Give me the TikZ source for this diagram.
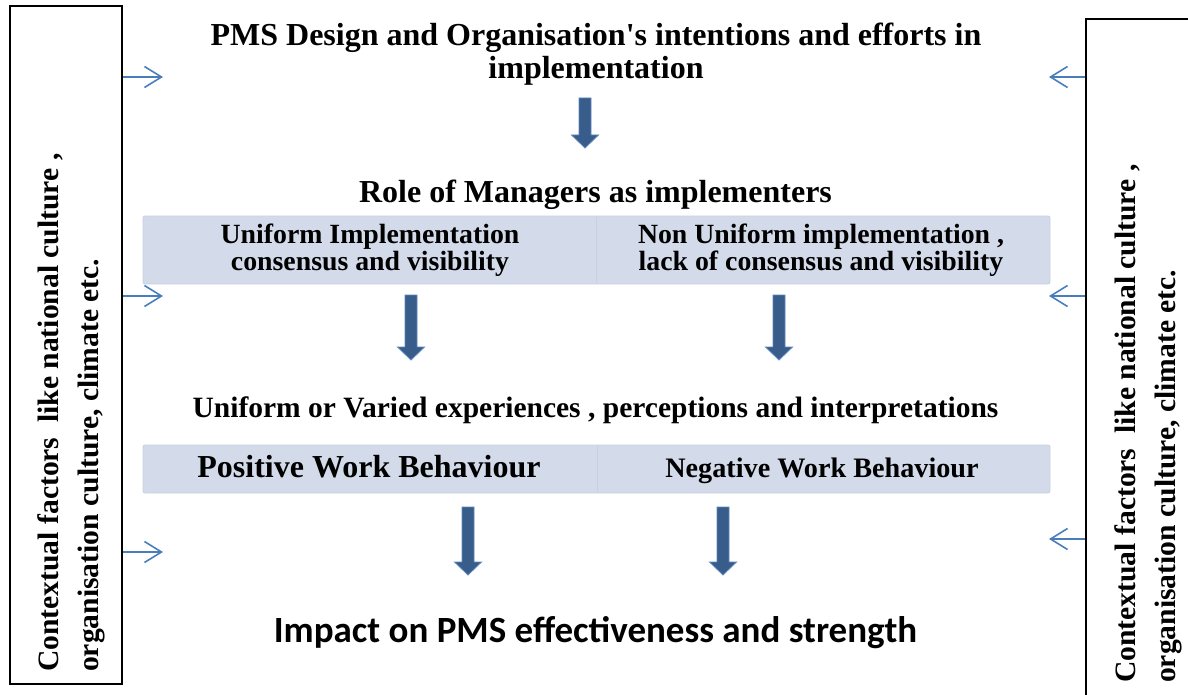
\documentclass[tikz,border=0pt]{standalone}
\usepackage{fontspec}
\setmainfont{Liberation Serif}
\newfontfamily\calib{Carlito}
\usetikzlibrary{arrows.meta}
\definecolor{adark}{RGB}{56,93,138}
\definecolor{aedge}{RGB}{95,135,190}
\definecolor{sblue}{RGB}{74,126,187}
\definecolor{band}{RGB}{211,218,233}
\definecolor{bandline}{RGB}{200,208,226}
\tikzset{
  pics/barrow/.style={code={
    \filldraw[fill=adark, draw=aedge, line width=0.8pt]
      (-6,0) -- (6,0) -- (6,#1-13) -- (13.5,#1-13) -- (0,#1) -- (-13.5,#1-13) -- (-6,#1-13) -- cycle;
  }},
  sarrow/.style={draw=sblue, line width=1.6pt, -{Straight Barb[length=17pt,width=21pt,line width=1.6pt]}},
  ctxbox/.style={draw=black, line width=2pt, minimum width=112pt, minimum height=678pt, inner sep=0pt},
  ctxtext/.style={rotate=90, anchor=base west, align=left, inner sep=0pt, font=\bfseries\fontsize{29.6}{40}\selectfont},
  bandbox/.style={fill=band, draw=bandline, line width=0.8pt, rounded corners=2pt},
  txt/.style={anchor=base, inner sep=0pt, align=center}
}
\begin{document}
\begin{tikzpicture}[x=1pt,y=-1pt]
\clip (0,0) rectangle (1188,695);
\fill[white] (0,0) rectangle (1188,695);

% context boxes
\node[ctxbox] (lbox) at (66,345) {};
\node[ctxtext] (ltext) at (98,672) {Contextual factors~ like national culture ,\\organisation culture, climate etc.};
\node[ctxbox] (rbox) at (1142,358) {};
\node[ctxtext] (rtext) at (1175,683) {Contextual factors~ like national culture ,\\organisation culture, climate etc.};

% small arrows
\coordinate (l1) at (163,77);
\coordinate (l2) at (163,296);
\coordinate (l3) at (163,552);
\coordinate (r1) at (1049,77);
\coordinate (r2) at (1049,296);
\coordinate (r3) at (1049,539);
\draw[sarrow] (lbox.east |- l1) -- (l1);
\draw[sarrow] (lbox.east |- l2) -- (l2);
\draw[sarrow] (lbox.east |- l3) -- (l3);
\draw[sarrow] (rbox.west |- r1) -- (r1);
\draw[sarrow] (rbox.west |- r2) -- (r2);
\draw[sarrow] (rbox.west |- r3) -- (r3);

% bands
\draw[bandbox] (143,216) rectangle (1050,284);
\draw[bandline, line width=1pt] (596,217) -- (596,283);
\draw[bandbox] (143,445) rectangle (1050,493);
\draw[bandline, line width=1pt] (597,446) -- (597,492);

% texts
\node[txt, font=\bfseries\fontsize{32}{33}\selectfont] (title) at (596,79)
  {PMS Design and Organisation\textquotesingle s intentions and efforts in\\implementation};
\node[txt, font=\bfseries\fontsize{32}{33}\selectfont] (role) at (595.5,203) {Role of Managers as implementers};
\node[txt, font=\bfseries\fontsize{27.8}{27}\selectfont] (uni) at (370,270) {Uniform Implementation\\consensus and visibility};
\node[txt, font=\bfseries\fontsize{27.8}{27}\selectfont] (nonuni) at (821,270) {Non Uniform implementation ,\\lack of consensus and visibility};
\node[txt, font=\bfseries\fontsize{29.5}{33}\selectfont] (exp) at (595.5,417) {Uniform or Varied experiences , perceptions and interpretations};
\node[txt, font=\bfseries\fontsize{32}{33}\selectfont] (pos) at (369,477) {Positive Work Behaviour};
\node[txt, font=\bfseries\fontsize{28.2}{33}\selectfont] (neg) at (822,477) {Negative Work Behaviour};
\node[txt, font=\calib\bfseries\fontsize{37}{40}\selectfont] (impact) at (595.5,642) {Impact on PMS effectiveness and strength};

% block arrows
\coordinate (a1) at (585,98);
\coordinate (a2) at (411,295);
\coordinate (a3) at (779,295);
\coordinate (a4) at (468,507);
\coordinate (a5) at (723,507);
\pic at (a1) {barrow=50};
\pic at (a2) {barrow=65};
\pic at (a3) {barrow=65};
\pic at (a4) {barrow=68};
\pic at (a5) {barrow=68};
\end{tikzpicture}
\end{document}
